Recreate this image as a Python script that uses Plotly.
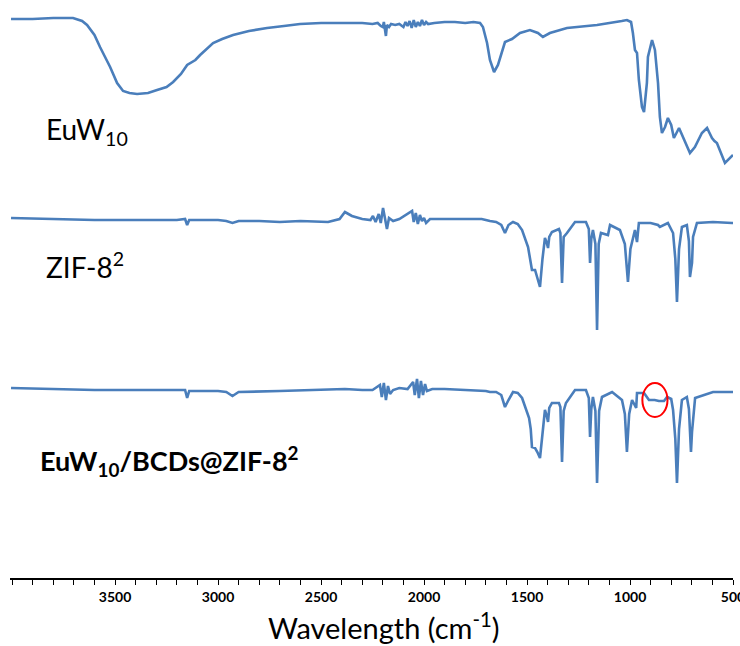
import plotly.graph_objects as go

# FT-IR spectra (arbitrary transmittance units, stacked with offsets)
# Each spectrum: wavenumber (cm-1) and value relative to its own baseline.

euw10_wn = [4005, 3900, 3800, 3704, 3660, 3636, 3600, 3573, 3524, 3490, 3461, 3430, 3393,
            3340, 3296, 3250, 3218, 3180, 3150, 3110, 3087, 3050, 3024, 2980, 2927, 2850,
            2762, 2680, 2602, 2500, 2374, 2300, 2250, 2225, 2210, 2200, 2195, 2190, 2185,
            2180, 2170, 2160, 2140, 2120, 2100, 2090, 2080, 2070, 2060, 2050, 2040, 2030,
            2020, 2010, 2000, 1990, 1980, 1950, 1900, 1850, 1800, 1760, 1728, 1714, 1694,
            1680, 1660, 1641, 1622, 1607, 1573, 1534, 1486, 1447, 1423, 1389, 1306, 1160,
            1040, 1015, 995, 986, 976, 966, 957, 942, 932, 918, 913, 893, 879, 864, 855,
            845, 830, 816, 800, 787, 762, 743, 709, 685, 651, 626, 602, 590, 578, 539, 515, 500]
euw10_val = [0, 0, 1, 1, -2, -6, -16, -28, -48, -64, -72, -74, -75,
             -74, -71, -68, -63, -55, -46, -41, -36, -29, -24, -20, -16, -12,
             -9, -7, -5, -4, -4, -4, -5, -4, -7, -8, -3, -11, -17,
             -6, -8, -5, -6, -5, -8, -3, -7, -2, -9, -1, -8, -3,
             -7, -1, -6, -3, -5, -4, -3, -3, -4, -3, -4, -8, -24,
             -41, -53, -46, -34, -23, -20, -14, -11, -14, -18, -14, -9, -6,
             -2, -1, -3, -14, -31, -34, -61, -88, -93, -64, -38, -21, -31, -64, -98,
             -114, -108, -99, -106, -119, -109, -118, -134, -128, -114, -109, -119, -122, -124, -144, -139, -136]

zif8_wn = [4005, 3800, 3600, 3400, 3200, 3160, 3150, 3140, 3100, 3000, 2960, 2930, 2900,
           2800, 2700, 2600, 2466, 2410, 2384, 2370, 2350, 2300, 2260, 2248, 2235, 2220,
           2210, 2199, 2190, 2180, 2170, 2150, 2120, 2058, 2050, 2040, 2030, 2020, 2010,
           2000, 1990, 1971, 1950, 1900, 1800, 1720, 1680, 1650, 1625, 1607, 1590, 1568,
           1545, 1524, 1495, 1482, 1476, 1461, 1450, 1437, 1425, 1413, 1404, 1398, 1392,
           1379, 1345, 1338, 1330, 1322, 1306, 1267, 1214, 1200, 1194, 1188, 1180, 1168,
           1160, 1152, 1141, 1107, 1097, 1049, 1025, 1010, 998, 990, 976, 966, 957,
           900, 864, 855, 816, 791, 780, 772, 762, 748, 724, 714, 709, 699, 694, 675,
           597, 505, 500]
zif8_val = [1, 0, -1, -1, -1, 0, -6, -1, -1, -1, -2, -4, -2,
            -2, -3, -2, -3, 0, 7, 5, 3, 0, -1, 3, -3, 5,
            -4, 11, 0, -10, 1, -2, 0, 8, -3, 6, -5, 4, -2,
            1, -4, 0, 0, 0, 0, 0, -2, -3, -6, -14, -6, -3,
            -5, -11, -28, -44, -51, -51, -60, -68, -40, -19, -24, -29, -18,
            -13, -10, -14, -64, -18, -14, -3, -3, -10, -44, -20, -11, -25,
            -111, -25, -14, -16, -6, -11, -25, -63, -30, -24, -11, -23, -4,
            -4, -6, -8, -4, -14, -40, -83, -30, -8, -6, -22, -58, -44, -18, -4,
            -3, -4, -4]

comp_wn = [4005, 3800, 3600, 3400, 3200, 3160, 3150, 3140, 3000, 2960, 2930, 2900,
           2700, 2500, 2384, 2300, 2250, 2214, 2205, 2195, 2185, 2175, 2165, 2150,
           2120, 2080, 2053, 2045, 2034, 2025, 2015, 2005, 1995, 1986, 1960, 1900,
           1800, 1700, 1680, 1650, 1625, 1607, 1590, 1568, 1545, 1524, 1490, 1482,
           1476, 1461, 1450, 1437, 1425, 1413, 1404, 1398, 1392, 1379, 1345, 1338,
           1330, 1322, 1311, 1267, 1214, 1200, 1194, 1188, 1180, 1168, 1160, 1150,
           1136, 1087, 1039, 1025, 1015, 1004, 990, 970, 966, 932, 908, 880, 860,
           835, 820, 800, 791, 780, 772, 762, 748, 724, 714, 704, 699, 684, 597, 515, 500]
comp_val = [1, 0, -1, -1, -1, -1, -9, -2, -2, -3, -7, -3,
            -2, -1, 0, -1, -1, 4, -8, 6, -11, 3, -5, -1,
            1, 0, 7, -6, 10, -9, 8, -6, 5, -2, 0, 0,
            -1, -2, -3, -3, -6, -18, -11, -3, -4, -9, -29, -40,
            -58, -59, -63, -69, -45, -21, -27, -33, -19, -14, -14, -18,
            -73, -22, -14, -1, -1, -9, -48, -20, -8, -22, -94, -22,
            -8, -3, -11, -25, -63, -25, -11, -19, -4, -4, -11, -11, -12,
            -12, -8, -10, -21, -50, -94, -40, -11, -8, -20, -63, -43, -9, -3, -3, -3]

names = ["EuW<sub>10</sub>", "ZIF-8<sup>2</sup>", "<b>EuW<sub>10</sub>/BCDs@ZIF-8<sup>2</sup></b>"]
offsets = [559, 359, 189]
spectra = [(euw10_wn, euw10_val), (zif8_wn, zif8_val), (comp_wn, comp_val)]

tick_values = [3500, 3000, 2500, 2000, 1500, 1000, 500]

# highlighted band region on the composite spectrum
circle_wn = (940, 818)
circle_val = (6, -28)

line_color = "#4a7ebb"

fig = go.Figure()
for (wn, val), off in zip(spectra, offsets):
    fig.add_trace(go.Scatter(
        x=wn, y=[v + off for v in val], mode="lines",
        line=dict(color=line_color, width=2.6),
        showlegend=False, hoverinfo="skip",
    ))

label_pos = [(44, 131), (44, 266), (38, 461)]
label_sizes = [28, 28, 27]
for name, (px, py), sz in zip(names, label_pos, label_sizes):
    fig.add_annotation(
        x=(px - 10) / 723, y=(578 - py) / 578, xref="paper", yref="paper",
        text=name, showarrow=False, xanchor="left", yanchor="middle",
        font=dict(family="Lato", size=sz, color="black"),
    )

fig.add_shape(
    type="circle", xref="x", yref="y",
    x0=circle_wn[0], x1=circle_wn[1],
    y0=offsets[2] + circle_val[0], y1=offsets[2] + circle_val[1],
    line=dict(color="red", width=2),
)

fig.add_annotation(
    x=(383 - 10) / 723, y=-(626 - 578) / 578, xref="paper", yref="paper",
    text="Wavelength (cm<sup>-1</sup>)", showarrow=False,
    xanchor="center", yanchor="middle",
    font=dict(family="Lato", size=29, color="black"),
)

fig.update_layout(
    width=740, height=646,
    margin=dict(l=10, r=7, t=0, b=68),
    plot_bgcolor="white", paper_bgcolor="white",
)
fig.update_xaxes(
    range=[4010, 500], showgrid=False, zeroline=False,
    showline=True, linecolor="black", linewidth=1.5,
    tickmode="array", tickvals=tick_values,
    ticks="outside", ticklen=5, tickcolor="black", tickwidth=1,
    minor=dict(ticks="outside", dtick=100, tick0=500, ticklen=5, tickcolor="black", tickwidth=1),
    tickfont=dict(family="Lato", size=14, color="black", weight="bold"),
    ticklabeloverflow="allow",
    automargin=False,
)
fig.update_yaxes(range=[0, 578], visible=False)

fig.write_html("out.html")
